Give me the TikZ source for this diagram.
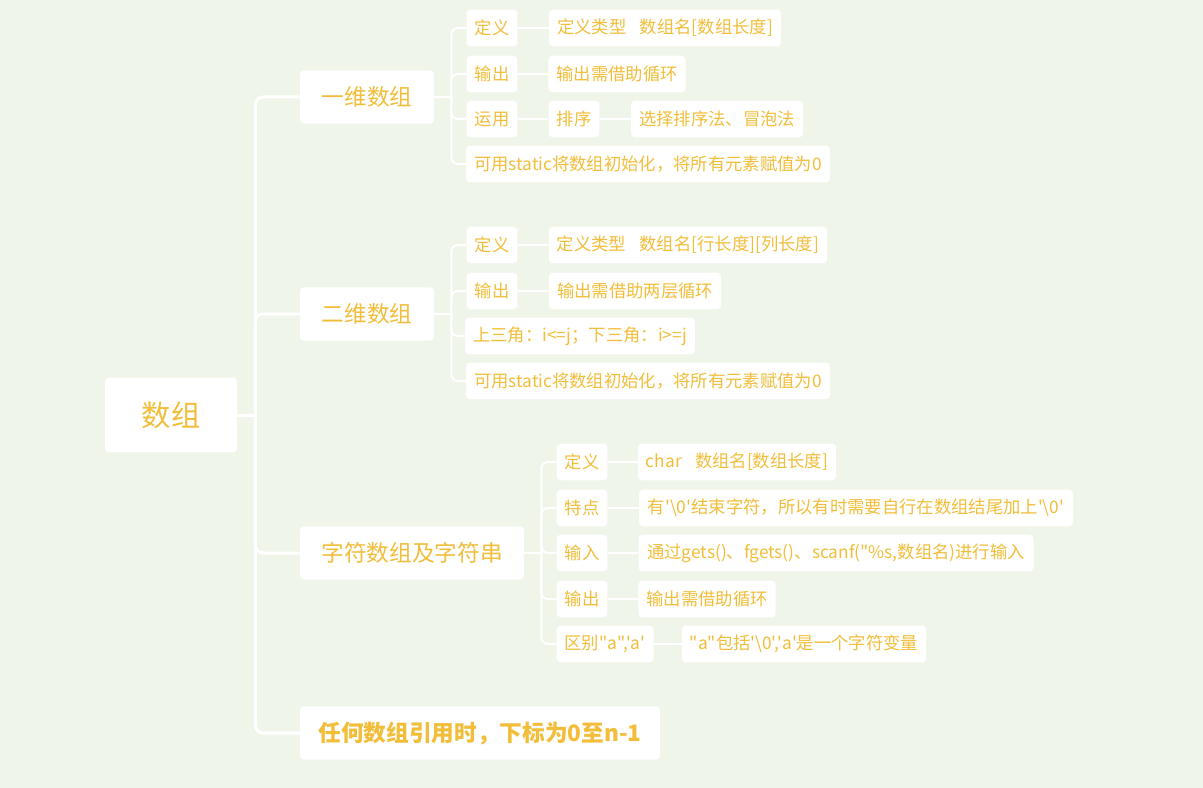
\documentclass[tikz,border=0pt]{standalone}
\usepackage{fontspec}
\newfontfamily\cjk{Noto Sans CJK SC}
\definecolor{mapbg}{RGB}{240,245,233}
\definecolor{maptext}{RGB}{242,190,58}

\begin{document}
\begin{tikzpicture}[x=0.75pt, y=-0.75pt,
  box/.style={fill=white, rounded corners=3pt, text=maptext, inner xsep=6pt, inner ysep=0pt},
  rootbox/.style={box, minimum width=99pt, minimum height=56pt, font=\cjk\fontsize{22pt}{26pt}\selectfont},
  topic/.style={box, minimum height=40pt, font=\cjk\fontsize{17pt}{20pt}\selectfont},
  leaf/.style={box, minimum height=27.5pt, font=\cjk\fontsize{13pt}{15pt}\selectfont},
  mainlink/.style={white, line width=2.25pt, rounded corners=6pt},
  link/.style={white, line width=1.5pt, rounded corners=5pt}]

\fill[mapbg] (0,0) rectangle (1203,788);

\node[rootbox] (root) at (171,415) {数组};

\node[topic, minimum width=100.5pt] (one)   at (367,97)  {一维数组};
\node[topic, minimum width=100.5pt] (two)   at (367,314) {二维数组};
\node[topic, minimum width=168pt]   (chars) at (412,553) {字符数组及字符串};
\node[topic, minimum width=270pt, font=\cjk\bfseries\fontsize{17pt}{20pt}\selectfont] (index) at (480,733) {任何数组引用时，下标为0至n-1};

% One dimension
\node[leaf, minimum width=37.5pt]  (oneDef)  at (492,28)  {定义};
\node[leaf, minimum width=174pt]   (oneDefT) at (665,28)  {定义类型\hspace{10pt}数组名[数组长度]};
\node[leaf, minimum width=37.5pt]  (oneOut)  at (492,74)  {输出};
\node[leaf, minimum width=102.75pt](oneOutT) at (617,74)  {输出需借助循环};
\node[leaf, minimum width=37.5pt]  (oneUse)  at (492,119) {运用};
\node[leaf, minimum width=37.5pt]  (oneSort) at (574,119) {排序};
\node[leaf, minimum width=128.25pt](oneSortT) at (717,119) {选择排序法、冒泡法};
\node[leaf, minimum width=272.25pt](oneInit) at (648,164) {可用static将数组初始化，将所有元素赋值为0};

% Two dimensions
\node[leaf, minimum width=37.5pt]  (twoDef)  at (492,245) {定义};
\node[leaf, minimum width=208.5pt] (twoDefT) at (688,245) {定义类型\hspace{10pt}数组名[行长度][列长度]};
\node[leaf, minimum width=37.5pt]  (twoOut)  at (492,291) {输出};
\node[leaf, minimum width=129pt]   (twoOutT) at (635,291) {输出需借助两层循环};
\node[leaf, minimum width=170.25pt](twoTri)  at (580,336) {上三角：i<=j；下三角：i>=j};
\node[leaf, minimum width=272.25pt](twoInit) at (648,381) {可用static将数组初始化，将所有元素赋值为0};

% Strings
\node[leaf, minimum width=37.5pt]  (strDef)  at (582,462) {定义};
\node[leaf, minimum width=147.75pt](strDefT) at (737,462) {char\hspace{10pt}数组名[数组长度]};
\node[leaf, minimum width=37.5pt]  (strMark) at (582,508) {特点};
\node[leaf, minimum width=325.5pt] (strMarkT) at (856,508) {有'\textbackslash 0'结束字符，所以有时需要自行在数组结尾加上'\textbackslash 0'};
\node[leaf, minimum width=37.5pt]  (strIn)   at (582,553) {输入};
\node[leaf, minimum width=296.25pt](strInT)  at (836,553) {通过gets()、fgets()、scanf("\%s,数组名)进行输入};
\node[leaf, minimum width=37.5pt]  (strOut)  at (582,599) {输出};
\node[leaf, minimum width=102.75pt](strOutT) at (707,599) {输出需借助循环};
\node[leaf, minimum width=72pt]    (strDiff) at (605,644) {区别"a",'a'};
\node[leaf, minimum width=180pt]   (strDiffT) at (804,644) {"a"包括'\textbackslash 0','a'是一个字符变量};

% -------- Connectors -----------
\coordinate (rootJ)  at ([xshift=13.5pt]root.east);
\coordinate (oneJ)   at ([xshift=12.75pt]one.east);
\coordinate (twoJ)   at ([xshift=12.75pt]two.east);
\coordinate (charsJ) at ([xshift=12.75pt]chars.east);

\draw[mainlink] (root.east) -- (rootJ);
\foreach \n in {one,two,chars,index}
  \draw[mainlink] (rootJ) |- (\n.west);

\draw[link] (one.east) -- (oneJ);
\foreach \n in {oneDef,oneOut,oneUse,oneInit}
  \draw[link] (oneJ) |- (\n.west);
\draw[link] (two.east) -- (twoJ);
\foreach \n in {twoDef,twoOut,twoTri,twoInit}
  \draw[link] (twoJ) |- (\n.west);
\draw[link] (chars.east) -- (charsJ);
\foreach \n in {strDef,strMark,strIn,strOut,strDiff}
  \draw[link] (charsJ) |- (\n.west);

% Leaf rows
\draw[link] (oneDef) -- (oneDefT);
\draw[link] (oneOut) -- (oneOutT);
\draw[link] (oneUse) -- (oneSort);
\draw[link] (oneSort) -- (oneSortT);
\draw[link] (twoDef) -- (twoDefT);
\draw[link] (twoOut) -- (twoOutT);
\draw[link] (strDef) -- (strDefT);
\draw[link] (strMark) -- (strMarkT);
\draw[link] (strIn) -- (strInT);
\draw[link] (strOut) -- (strOutT);
\draw[link] (strDiff) -- (strDiffT);
\end{tikzpicture}
\end{document}
